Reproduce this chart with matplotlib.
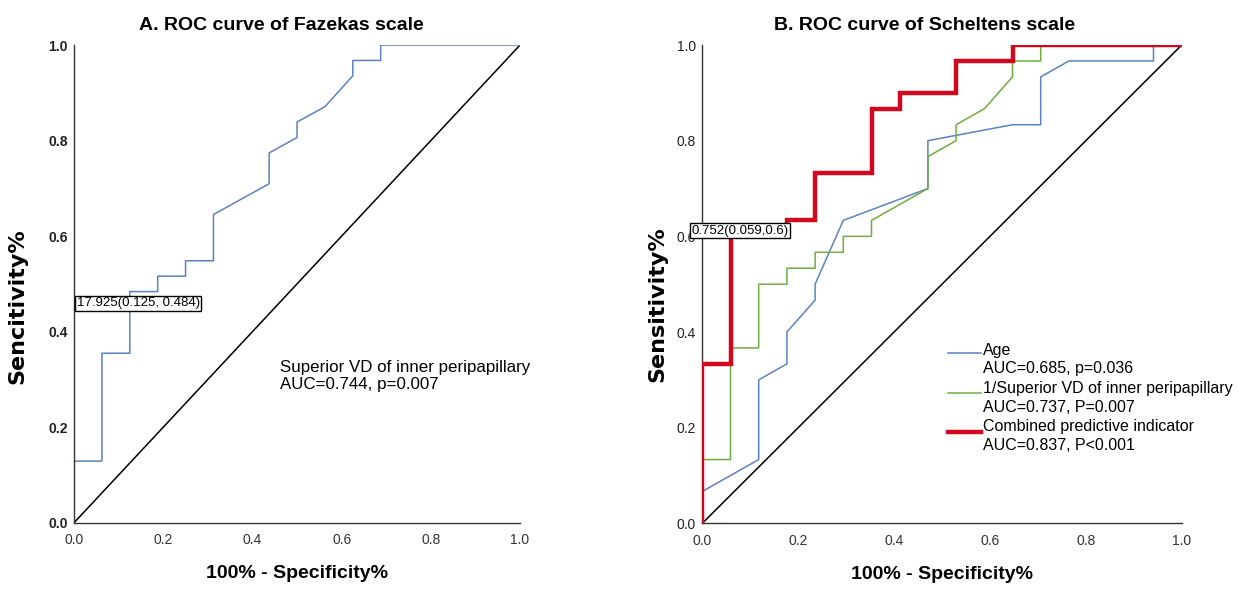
import matplotlib
matplotlib.use("Agg")
import matplotlib.pyplot as plt

plt.rcParams['font.family'] = ['Liberation Sans', 'DejaVu Sans']

# ---- data ----
# A: Fazekas scale, 16 negatives / 31 positives
fz_fpr = [0, 0, 1/16, 1/16, 2/16, 2/16, 3/16, 3/16, 4/16, 4/16, 5/16, 5/16,
          7/16, 7/16, 8/16, 8/16, 9/16, 10/16, 10/16, 11/16, 11/16, 1.0]
fz_tpr = [0, 4/31, 4/31, 11/31, 11/31, 15/31, 15/31, 16/31, 16/31, 17/31, 17/31, 20/31,
          22/31, 24/31, 25/31, 26/31, 27/31, 29/31, 30/31, 30/31, 1.0, 1.0]

# B: Scheltens scale, 17 negatives / 30 positives
age_fpr = [0, 0, 2/17, 2/17, 3/17, 3/17, 4/17, 4/17, 5/17, 8/17, 8/17,
           11/17, 12/17, 12/17, 13/17, 16/17, 16/17, 1.0]
age_tpr = [0, 2/30, 4/30, 9/30, 10/30, 12/30, 14/30, 15/30, 19/30, 21/30, 24/30,
           25/30, 25/30, 28/30, 29/30, 29/30, 1.0, 1.0]

vd_fpr = [0, 0, 1/17, 1/17, 2/17, 2/17, 3/17, 3/17, 4/17, 4/17, 5/17, 5/17, 6/17, 6/17,
          8/17, 8/17, 9/17, 9/17, 10/17, 11/17, 11/17, 12/17, 12/17, 1.0]
vd_tpr = [0, 4/30, 4/30, 11/30, 11/30, 15/30, 15/30, 16/30, 16/30, 17/30, 17/30, 18/30, 18/30, 19/30,
          21/30, 23/30, 24/30, 25/30, 26/30, 28/30, 29/30, 29/30, 1.0, 1.0]

comb_fpr = [0, 0, 1/17, 1/17, 3/17, 3/17, 4/17, 4/17, 6/17, 6/17, 7/17, 7/17,
            9/17, 9/17, 11/17, 11/17, 1.0]
comb_tpr = [0, 10/30, 10/30, 18/30, 18/30, 19/30, 19/30, 22/30, 22/30, 26/30, 26/30, 27/30,
            27/30, 29/30, 29/30, 1.0, 1.0]

ticks = [0.0, 0.2, 0.4, 0.6, 0.8, 1.0]

BLUE = '#5A82C4'
GREEN = '#6DAE3E'
RED = '#D2091E'

fig = plt.figure(figsize=(12.51, 5.9), dpi=100)
axA = fig.add_axes([0.0592, 0.114, 0.3565, 0.8097])
axB = fig.add_axes([0.5614, 0.113, 0.3832, 0.8107])


def style_axes(ax, title, ylabel, ybold, ylab_x, ylab_y):
    ax.set_xlim(0, 1)
    ax.set_ylim(0, 1)
    for s in ['top', 'right']:
        ax.spines[s].set_visible(False)
    for s in ['left', 'bottom']:
        ax.spines[s].set_color('#333333')
        ax.spines[s].set_linewidth(1.0)
    ax.set_xticks(ticks)
    ax.set_yticks(ticks)
    ax.set_xticklabels([f'{t:.1f}' for t in ticks], fontsize=10, color='#333333')
    ax.set_yticklabels([f'{t:.1f}' for t in ticks], fontsize=10, color='#222222',
                       fontweight='bold' if ybold else 'normal')
    ax.tick_params(axis='x', length=0, pad=7.5)
    ax.tick_params(axis='y', length=0, pad=4.5)
    ax.set_title(title, fontsize=14, fontweight='bold', pad=11, x=0.464)
    ax.set_xlabel('100% - Specificity%', fontsize=14, fontweight='bold', labelpad=13)
    # y label in the original is drawn long and narrow
    ax.set_ylabel(ylabel, fontsize=16, fontweight='bold', family='DejaVu Sans')
    ax.yaxis.set_label_coords(ylab_x, ylab_y)
    ax.plot([0, 1], [0, 1], color='black', lw=1.1, zorder=1)


# ---- panel A ----
style_axes(axA, 'A. ROC curve of Fazekas scale', 'Sencitivity%', True, -0.104, 0.454)
axA.plot(fz_fpr, fz_tpr, color=BLUE, lw=1.1, zorder=2)
axA.text(0.006, 0.459, '17.925(0.125, 0.484)', fontsize=9.5, va='center', ha='left',
         bbox=dict(boxstyle='square,pad=0.12', fc='white', ec='black', lw=1.0), zorder=5)
axA.text(0.462, 0.307, 'Superior VD of inner peripapillary\nAUC=0.744, p=0.007',
         fontsize=12.2, va='center', ha='left', linespacing=1.15)

# ---- panel B ----
style_axes(axB, 'B. ROC curve of Scheltens scale', 'Sensitivity%', False, -0.072, 0.4585)
axB.plot(age_fpr, age_tpr, color=BLUE, lw=1.1, zorder=2)
axB.plot(vd_fpr, vd_tpr, color=GREEN, lw=1.1, zorder=2)
axB.plot(comb_fpr, comb_tpr, color=RED, lw=3.2, zorder=3, solid_joinstyle='miter')
axB.text(-0.022, 0.612, '0.752(0.059,0.6)', fontsize=9.5, va='center', ha='left',
         bbox=dict(boxstyle='square,pad=0.12', fc='white', ec='black', lw=1.0), zorder=5)

# legend drawn by hand to keep the two-line entries like the original
legend_labels = ['Age\nAUC=0.685, p=0.036',
                 '1/Superior VD of inner peripapillary\nAUC=0.737, P=0.007',
                 'Combined predictive indicator\nAUC=0.837, P<0.001']
legend_colors = [BLUE, GREEN, RED]
legend_widths = [1.1, 1.1, 3.2]
text_y = [0.3425, 0.262, 0.1825]
handle_y = [0.3567, 0.2724, 0.1915]
for label, c, lw, ty, hy in zip(legend_labels, legend_colors, legend_widths, text_y, handle_y):
    axB.plot([0.5125, 0.5814], [hy, hy], color=c, lw=lw,
             transform=axB.transAxes, clip_on=False)
    axB.text(0.5855, ty, label, transform=axB.transAxes, fontsize=11.5,
             va='center', ha='left', linespacing=1.28)

plt.savefig('out.png', dpi=100)
